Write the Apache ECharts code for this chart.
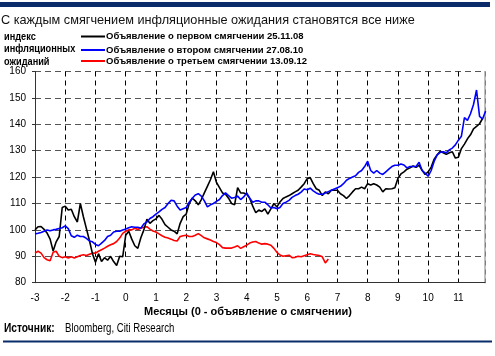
<!DOCTYPE html>
<html>
<head>
<meta charset="utf-8">
<script src="https://cdn.jsdelivr.net/npm/echarts@6/dist/echarts.min.js"></script>
<style>
html,body{margin:0;padding:0;background:#fff;}
#chart{width:495px;height:356px;}
</style>
</head>
<body>
<div id="chart"></div>
<script>
// Months relative to easing announcement; samples every 0.1 month starting at -3
const monthStart = -3;
const monthStep = 0.1;
const xTicks = [-3, -2, -1, 0, 1, 2, 3, 4, 5, 6, 7, 8, 9, 10, 11];
const yTicks = [80, 90, 100, 110, 120, 130, 140, 150, 160];

const seriesNames = [
  'Объявление о первом смягчении 25.11.08',
  'Объявление о втором смягчении 27.08.10',
  'Объявление о третьем смягчении 13.09.12'
];

// QE1 (black)
const blackValues = [
  100, 101.2, 101.3, 100.2, 98.8, 96.5, 92, 95.5, 97.5, 108.5,
  109, 107.5, 107.8, 105, 103, 110, 105, 100.5, 96, 91,
  87.8, 91, 88, 89.5, 88.5, 90, 88, 86.5, 90, 89.8,
  98, 99.5, 96.5, 94, 93, 97, 100, 104, 102.5, 103.5,
  104.2, 105.5, 104, 102, 101, 100, 99.5, 98.5, 102.5, 105,
  106, 110, 112, 111, 109.5, 111.5, 114, 116.5, 119, 122,
  118, 116, 114, 113.5, 112, 110, 109.5, 116, 114, 114,
  113.5, 112, 109, 106.5, 107.5, 107, 108, 106, 108, 110,
  108.7, 110.6, 111.9, 112.5, 113, 113.7, 114.4, 115, 116.2, 117.5,
  119.4, 119.8, 117.5, 115.6, 115, 113, 114.4, 113.7, 115, 115,
  115, 113.7, 113, 111.9, 113, 114.4, 115.6, 115.6, 116.2, 115.6,
  117.5, 117, 117.5, 117, 116.2, 114.4, 115.6, 115.5, 115.6, 116,
  119.5, 121.2, 122, 123, 123.5, 124.2, 123.7, 124.5, 122.6, 121,
  122, 123.8, 126.8, 128.5, 129.8, 129.2, 128.6, 129.2, 129.6, 127.2,
  127.5, 130.8, 132.5, 134.5, 136, 138.3, 139.2, 140.2, 142.2
];

// QE2 (blue)
const blueValues = [
  98.5, 98.7, 99, 99.5, 100, 99.7, 100, 100.2, 100.5, 100.8,
  101.5, 100.5, 97.8, 97.2, 98, 97.5, 97.5, 96.8, 95.8, 95.5,
  94.5, 94, 95, 96, 97.5, 98, 99.2, 99.5, 99.5, 100,
  100.3, 100.8, 101.2, 101, 101, 100.6, 102.3, 103, 104.3, 105,
  106, 106.8, 107.8, 108.5, 110, 111.2, 111, 109, 107.5, 108,
  108.5, 110.5, 112, 113.2, 113.7, 112.8, 111, 108.7, 109.5, 110,
  110.8, 111.5, 113, 114, 113, 112, 112.3, 112.8, 111.5, 112.5,
  114, 112, 110.5, 111, 111, 110.5, 110.5, 109.5, 108.3, 108.5,
  108, 108.5, 110, 110.5, 111.2, 112.3, 113, 113.5, 114.3, 115.5,
  115.2, 115.8, 114.8, 114, 113.5, 113.5, 114, 114.5, 115, 115.5,
  116, 116.5, 117.5, 118.8, 119.5, 120, 120.5, 121.8, 122.5, 124,
  126, 122.5, 121.5, 122.5, 121.5, 121, 122, 123, 124, 124.5,
  124.5, 125, 124.6, 123.5, 124, 124, 124, 125.6, 122.5, 121.5,
  120.3, 122.5, 126, 128.4, 129.4, 129.6, 129.2, 130.3, 131, 132.2,
  134, 135.5, 142.5, 141.5, 144, 147.5, 153, 143, 142, 145
];

// QE3 (red)
const redValues = [
  91.2, 91.9, 91.2, 89.5, 88.7, 88.3, 91.5, 91.9, 90, 89.5,
  89.8, 89.4, 89.8, 89.4, 89.8, 90.3, 90.6, 90.3, 90.8, 91.2,
  91.2, 91.9, 92.5, 93.1, 93.8, 94.4, 94.8, 95.6, 96.9, 98.7,
  99.5, 100, 100, 100.6, 100.2, 100.6, 101, 101.2, 100.3, 99.6,
  99.2, 98.5, 97.8, 97.2, 96.9, 96.5, 96, 95.8, 97.5, 97.8,
  98, 97.5, 97.5, 98, 98.6, 97.8, 97, 96.6, 96.2, 95.6,
  95.2, 94.4, 93.3, 93.1, 93.1, 93.1, 93.5, 94, 93, 93.6,
  94.2, 95, 95.4, 95.6, 95, 94.6, 94.8, 94.6, 94.2, 93,
  91.5, 90.5, 90, 90.2, 90.4, 89.5, 89.6, 90, 89.8, 90.2,
  90.6, 91, 90.7, 90.5, 90.3, 89.8, 87.5, 89
];

function toPairs(values) {
  return values.map((v, i) => [+(monthStart + i * monthStep).toFixed(2), v]);
}

const chart = echarts.init(document.getElementById('chart'), null, {renderer: 'canvas'});
const FONT = 'Liberation Sans, Arial, sans-serif';
const navy = '#0b2c6b';

const legendCommon = {
  left: 81, icon: 'rect', itemWidth: 24, itemHeight: 2, itemGap: 0, padding: 0,
  selectedMode: false,
  textStyle: {fontFamily: FONT, fontSize: 9.5, fontWeight: 'bold', color: '#000', padding: [0, 0, 0, -4]}
};

chart.setOption({
  animation: false,
  backgroundColor: '#fff',
  color: ['#000000', '#0000ff', '#ff0000'],
  legend: [
    Object.assign({}, legendCommon, {top: 31.5, data: [seriesNames[0]]}),
    Object.assign({}, legendCommon, {top: 45, data: [seriesNames[1]]}),
    Object.assign({}, legendCommon, {top: 56, data: [seriesNames[2]]})
  ],
  grid: {left: 35, right: 10, top: 71.5, bottom: 73.3, containLabel: false},
  xAxis: {
    type: 'value', min: -3, max: 11.88, interval: 1,
    axisLine: {show: true, onZero: false, lineStyle: {color: '#333', width: 1}},
    axisTick: {show: false},
    axisLabel: {
      margin: 10.5, fontFamily: FONT, fontSize: 10, color: '#000',
      showMaxLabel: false,
      formatter: v => (xTicks.indexOf(v) >= 0 ? String(v) : '')
    },
    splitLine: {show: true, lineStyle: {color: '#000', width: 1, type: [5, 4]}}
  },
  yAxis: [{
    type: 'value', min: 80, max: 160, interval: 10,
    axisLine: {show: true, onZero: false, lineStyle: {color: '#333', width: 1}},
    axisTick: {show: true, length: 3, lineStyle: {color: '#333'}},
    axisLabel: {
      margin: 9, fontFamily: FONT, fontSize: 10, color: '#000',
      formatter: v => (yTicks.indexOf(v) >= 0 ? String(v) : '')
    },
    splitLine: {show: true, lineStyle: {color: '#555', width: 1.2, type: [6, 4]}}
  }, {
    type: 'value', min: 80, max: 160, interval: 10, position: 'right',
    axisLine: {show: true, onZero: false, lineStyle: {color: '#aaa', width: 1.5}},
    axisTick: {show: false}, axisLabel: {show: false}, splitLine: {show: false}
  }],
  series: [
    {name: seriesNames[0], type: 'line', data: toPairs(blackValues), symbol: 'none',
     lineStyle: {width: 1.6, color: '#000'}, z: 3},
    {name: seriesNames[1], type: 'line', data: toPairs(blueValues), symbol: 'none',
     lineStyle: {width: 1.6, color: '#0000ff'}, z: 4},
    {name: seriesNames[2], type: 'line', data: toPairs(redValues), symbol: 'none',
     lineStyle: {width: 1.6, color: '#ff0000'}, z: 2}
  ],
  graphic: [
    {type: 'rect', left: 0, top: 2, shape: {width: 490, height: 5}, style: {fill: navy}},
    {type: 'text', x: 1, y: 20.5, style: {text: 'С каждым смягчением инфляционные ожидания становятся все ниже',
      font: '12.7px ' + FONT, fill: '#111', verticalAlign: 'middle'}},
    {type: 'text', x: 4, y: 31, scaleX: 0.92, style: {text: 'индекс\nинфляционных\nожиданий',
      font: 'bold 10px ' + FONT, fill: '#000', lineHeight: 12.3}},
    {type: 'text', x: 248, y: 312, style: {text: 'Месяцы (0 - объявление о смягчении)',
      font: 'bold 11px ' + FONT, fill: '#000', align: 'center', verticalAlign: 'middle'}},
    {type: 'text', x: 4, y: 329, scaleX: 0.85, style: {text: 'Источник:',
      font: 'bold 12px ' + FONT, fill: '#000', verticalAlign: 'middle'}},
    {type: 'text', x: 65, y: 329, scaleX: 0.8, style: {text: 'Bloomberg, Citi Research',
      font: '12px ' + FONT, fill: '#000', verticalAlign: 'middle'}},
    {type: 'rect', left: 3, top: 340.5, shape: {width: 489, height: 2}, style: {fill: navy}}
  ]
});
</script>
</body>
</html>
